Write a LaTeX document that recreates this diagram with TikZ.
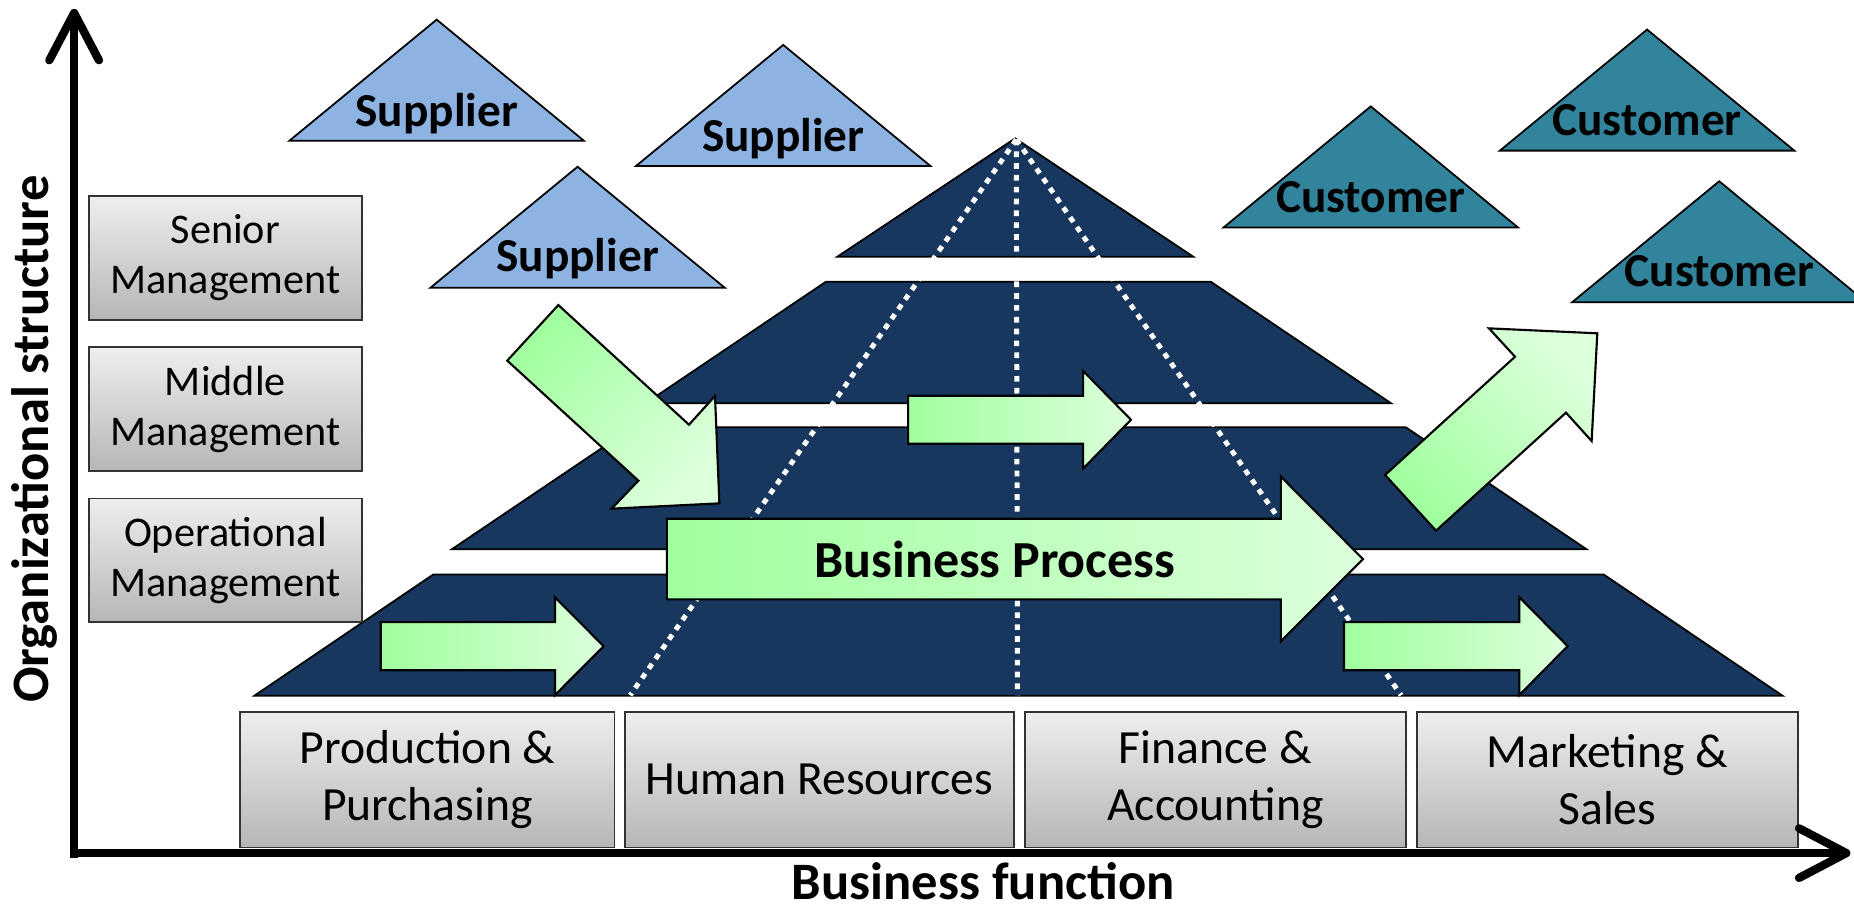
\documentclass[tikz,border=0pt]{standalone}
\usepackage{fontspec}
\setmainfont{Carlito}
\usetikzlibrary{positioning,arrows.meta}
\definecolor{pyrnavy}{HTML}{17375E}
\definecolor{supblue}{HTML}{8DB3E2}
\definecolor{custeal}{HTML}{31849B}
\definecolor{flowgreen}{HTML}{A0FF9E}
\definecolor{flowpale}{HTML}{DCFFDC}
\definecolor{boxtop}{HTML}{EEEEEE}
\definecolor{boxbottom}{HTML}{B6B6B6}
\tikzset{
    tier/.style ={
        draw=black,
        fill=pyrnavy,
        line width=1.5
    },
    supplier/.style ={
        draw=black,
        fill=supblue,
        line width=1.5
    },
    customer/.style ={
        draw=black,
        fill=custeal,
        line width=1.5
    },
    partner/.style ={
        anchor=base,
        font=\fontsize{40}{48}\selectfont\bfseries
    },
    procflow/.style ={
        draw=black,
        line width=1.8,
        left color=flowgreen,
        right color=flowpale
    },
    guide/.style ={
        draw=white,
        line width=4.2,
        dash pattern=on 4.8pt off 5.2pt
    },
    mgmt/.style ={
        draw=black!80,
        line width=1.5,
        top color=boxtop,
        bottom color=boxbottom,
        minimum width=231,
        minimum height=104.5,
        outer sep=0pt,
        align=center,
        font=\fontsize{35.7}{42.3}\selectfont
    },
    dept/.style ={
        draw=black!80,
        line width=1.5,
        top color=boxtop,
        bottom color=boxbottom,
        minimum height=114.5,
        outer sep=0pt,
        align=center,
        font=\fontsize{40.3}{48.5}\selectfont
    },
    axisline/.style ={
        line width=7,
        -{Straight Barb[length=40pt,width=42pt,round]}
    },
    axislabel/.style ={
        anchor=base,
        font=\fontsize{44.5}{53}\selectfont\bfseries
    }
}

\begin{document}
\begin{tikzpicture}[x=1pt,y=-1pt]
    \useasboundingbox (0,0) rectangle (1568,769.7);
    % suppliers and customers
    \draw[supplier] (369.3,16.6) -- ++(124.5,102.4) -- ++(-249,0) -- cycle;
    \draw[supplier] (662.4,38) -- ++(124.5,102.4) -- ++(-249,0) -- cycle;
    \draw[supplier] (488.5,141) -- ++(124.5,102.4) -- ++(-249,0) -- cycle;
    \draw[customer] (1159.3,90) -- ++(124.5,102.4) -- ++(-249,0) -- cycle;
    \draw[customer] (1393,25) -- ++(124.5,102.4) -- ++(-249,0) -- cycle;
    \draw[customer] (1454,153.3) -- ++(124.5,102.4) -- ++(-249,0) -- cycle;
    \node[partner] (sup1) at (369.3,107.1) {Supplier};
    \node[partner] (sup2) at (662.4,128.3) {Supplier};
    \node[partner] (sup3) at (488.5,229.8) {Supplier};
    \node[partner] (cus1) at (1159.3,179.9) {Customer};
    \node[partner] (cus2) at (1393,115) {Customer};
    \node[partner] (cus3) at (1454,242.5) {Customer};

    % pyramid
    \draw[tier] (215,588.5) -- (366.5,485.8) -- (1356.2,485.8) -- (1507.7,588.5) -- cycle;
    \draw[tier] (382,464.6) -- (535,361.4) -- (1189,361.4) -- (1341.9,464.6) -- cycle;
    \draw[tier] (546,341.1) -- (698.6,238.2) -- (1023.9,238.2) -- (1176.5,341.1) -- cycle;
    \draw[tier] (708.2,217.1) -- (858.6,117) -- (1009.2,217.1) -- cycle;
    \coordinate (apex) at (859.5,118);
    \coordinate (guideL) at (533,588);
    \coordinate (guideC) at (860.5,588);
    \coordinate (guideR) at (1185,588);
    \draw[guide] (apex) -- (guideL);
    \draw[guide] (apex) -- (guideC);
    \draw[guide] (apex) -- (guideR);

    % process arrows
    \draw[procflow] (322,526.2) -- (469.4,526.2) -- (469.4,505.2) -- (510.5,546.5) -- (469.4,587.8) -- (469.4,566.8) -- (322,566.8) -- cycle;
    \draw[procflow] (768,334.7) -- (916,334.7) -- (916,313.7) -- (956.5,355) -- (916,396.3) -- (916,375.3) -- (768,375.3) -- cycle;
    \draw[procflow] (1136.7,526.2) -- (1285,526.2) -- (1285,505.2) -- (1325.8,546.5) -- (1285,587.8) -- (1285,566.8) -- (1136.7,566.8) -- cycle;
    \draw[procflow] (564,438.7) -- (1083.3,438.7) -- (1083.3,403.1) -- (1152.7,472.8) -- (1083.3,542.4) -- (1083.3,506.9) -- (564,506.9) -- cycle;
    \draw[procflow,shading angle=47.6] (472.2,258) -- (582.7,359.2) -- (604.7,334.9) -- (608.4,425.7) -- (517.3,430.2) -- (539.9,406.5) -- (429,305) -- cycle;
    \draw[procflow,shading angle=132.2] (1171.4,401.7) -- (1281.3,301.7) -- (1259.3,277.7) -- (1350.9,281.9) -- (1346.1,373) -- (1324.4,349) -- (1214.5,448.8) -- cycle;
    \node[anchor=base,font=\fontsize{44}{53}\selectfont\bfseries] (bp) at (841.4,488.5) {Business Process};

    % management levels
    \node[mgmt] (senior) at (190.6,218.2) {Senior\\Management};
    \node[mgmt,below=23.3pt of senior] (middle) {Middle\\Management};
    \node[mgmt,below=23.3pt of middle] (operational) {Operational\\Management};

    % business functions
    \node[dept,minimum width=316.5] (prod) at (361.5,659.5) {Production \&\\Purchasing};
    \node[dept,minimum width=329.2,right=8.8pt of prod] (hr) {Human Resources};
    \node[dept,minimum width=322.5,right=8.9pt of hr] (fin) {Finance \&\\Accounting};
    \node[dept,minimum width=322.5,right=9pt of fin] (mkt) {Marketing \&\\Sales};

    % axes
    \coordinate (origin) at (62.7,725.5);
    \coordinate (ytip) at (62.7,7.5);
    \coordinate (xstart) at (59,721.5);
    \coordinate (xtip) at (1565,721.5);
    \draw[axisline] (origin) -- (ytip);
    \draw[axisline] (xstart) -- (xtip);
    \node[axislabel,rotate=90] (orgstruct) at (41,371.5) {Organizational structure};
    \node[axislabel] (bizfunc) at (831.5,761) {Business function};
\end{tikzpicture}
\end{document}
